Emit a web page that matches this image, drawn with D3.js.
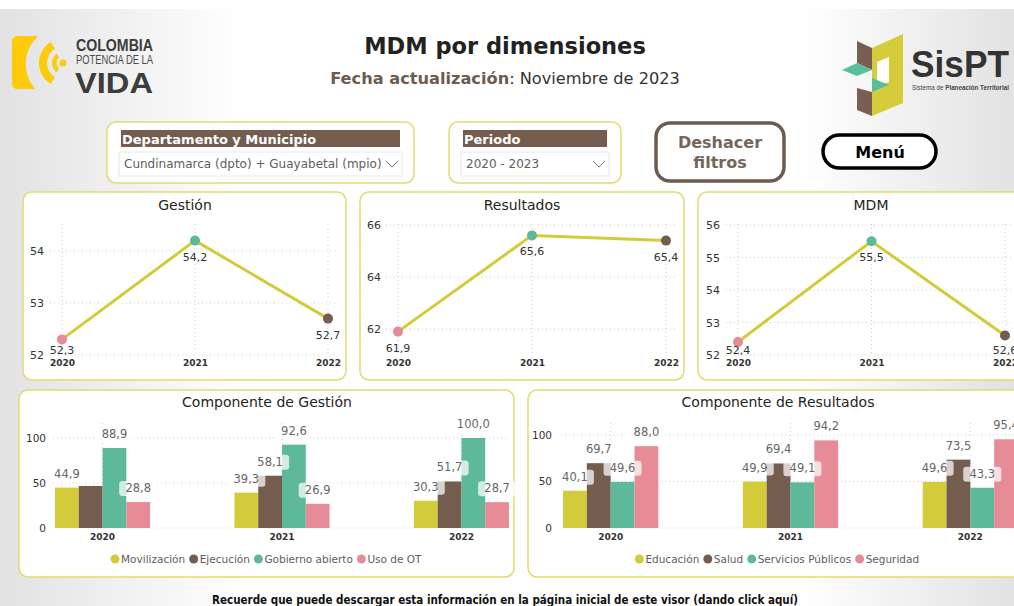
<!DOCTYPE html>
<html>
<head>
<meta charset="utf-8">
<title>MDM por dimensiones</title>
<script src="https://cdn.jsdelivr.net/npm/d3@7"></script>
<style>
  body { margin: 0; background: #fff; overflow: hidden; }
  svg { display: block; font-family: "DejaVu Sans", Verdana, sans-serif; }
</style>
</head>
<body>
<div id="container"></div>
<script>
var years = ["2020", "2021", "2022"];

var gestionValues = [52.3, 54.2, 52.7];
var gestionTicks = [52, 53, 54];
var resultadosValues = [61.9, 65.6, 65.4];
var resultadosTicks = [62, 64, 66];
var mdmValues = [52.4, 55.5, 52.6];
var mdmTicks = [52, 53, 54, 55, 56];

var compGestionSeries = ["Movilización", "Ejecución", "Gobierno abierto", "Uso de OT"];
var compGestionValues = [
  [44.9, 39.3, 30.3],
  [46.7, 58.1, 51.7],
  [88.9, 92.6, 100.0],
  [28.8, 26.9, 28.7]
];
var compGestionHidden = ["Ejecución|2020"]; // label not shown in the report

var compResultadosSeries = ["Educación", "Salud", "Servicios Públicos", "Seguridad"];
var compResultadosValues = [
  [40.1, 49.9, 49.6],
  [69.7, 69.4, 73.5],
  [49.6, 49.1, 43.3],
  [88.0, 94.2, 95.4]
];
var barTicks = [0, 50, 100];

// ---- colours ----
var olive = "#D3CB3A", brown = "#745C4F", teal = "#5DB99A", pink = "#E78C96";
var seriesColors = [olive, brown, teal, pink];
var pointColors = [pink, teal, brown];
var panelStroke = "#E3DA70";

var W = 1014, H = 606;
var svg = d3.select("#container").append("svg").attr("width", W).attr("height", H);

var fmt = function(v){ return d3.format(".1f")(v).replace(".", ","); };

// background: grey at the sides, white in the middle
var defs = svg.append("defs");
var grad = defs.append("linearGradient").attr("id", "bg").attr("x1", 0).attr("x2", 1).attr("y1", 0).attr("y2", 0);
grad.append("stop").attr("offset", "0%").attr("stop-color", "#e2e2e2");
grad.append("stop").attr("offset", "24%").attr("stop-color", "#ffffff");
grad.append("stop").attr("offset", "79%").attr("stop-color", "#ffffff");
grad.append("stop").attr("offset", "100%").attr("stop-color", "#e2e2e2");
svg.append("rect").attr("width", W).attr("height", H).attr("fill", "url(#bg)");
svg.append("rect").attr("width", W).attr("height", 9).attr("fill", "#fff");

// ---- Colombia logo ----
var logo = svg.append("g");
logo.append("path")
  .attr("d", "M18,36 L38,36 A38,38 0 0 0 35,89 L18,89 Q12,89 12,83 L12,42 Q12,36 18,36 Z")
  .attr("fill", "#FCCB0A");
var lc = [64, 63];
var arcGen = d3.arc();
logo.append("path").attr("transform", "translate(" + lc + ")")
  .attr("d", arcGen({innerRadius: 17, outerRadius: 25, startAngle: -Math.PI * 0.82, endAngle: -Math.PI * 0.18}))
  .attr("fill", "#FCCB0A");
logo.append("path").attr("transform", "translate(" + lc + ")")
  .attr("d", arcGen({innerRadius: 7.5, outerRadius: 12, startAngle: -Math.PI * 0.78, endAngle: -Math.PI * 0.22}))
  .attr("fill", "#FCCB0A");
logo.append("circle").attr("cx", 63).attr("cy", 63).attr("r", 3.5).attr("fill", "#FCCB0A");
logo.append("text").attr("x", 76).attr("y", 51).attr("font-family", "Liberation Sans, Arial, sans-serif")
  .attr("font-weight", "bold").attr("font-size", 16).attr("fill", "#3c3c3c")
  .attr("textLength", 77).attr("lengthAdjust", "spacingAndGlyphs").text("COLOMBIA");
logo.append("text").attr("x", 76).attr("y", 63.5).attr("font-family", "Liberation Sans, Arial, sans-serif")
  .attr("font-size", 12).attr("fill", "#4a4a4a")
  .attr("textLength", 77).attr("lengthAdjust", "spacingAndGlyphs").text("POTENCIA DE LA");
logo.append("text").attr("x", 75).attr("y", 93).attr("font-family", "Liberation Sans, Arial, sans-serif")
  .attr("font-weight", "bold").attr("font-size", 30).attr("fill", "#3c3c3c")
  .attr("textLength", 78).attr("lengthAdjust", "spacingAndGlyphs").text("VIDA");

// ---- SisPT logo ----
var sp = svg.append("g");
sp.append("polygon").attr("points", "872,48 903,34 903,103 872,116").attr("fill", "#D5CC3C");
sp.append("polygon").attr("points", "877,62 889,57 889,82 877,86").attr("fill", "#fff");
sp.append("polygon").attr("points", "857,41 872,48 872,70 857,63").attr("fill", "#7A5E52");
sp.append("polygon").attr("points", "842,70 857,63 872,70 857,76").attr("fill", "#5BBE9A");
sp.append("polygon").attr("points", "872,78 889,85 872,92").attr("fill", "#5BBE9A");
sp.append("polygon").attr("points", "857,88 872,92 872,116 857,110").attr("fill", "#7A5E52");
sp.append("text").attr("x", 911).attr("y", 77).attr("font-family", "Liberation Sans, Arial, sans-serif")
  .attr("font-weight", "bold").attr("font-size", 36).attr("fill", "#333")
  .attr("textLength", 98).attr("lengthAdjust", "spacingAndGlyphs").text("SisPT");
var sub = sp.append("text").attr("x", 912).attr("y", 90).attr("font-family", "Liberation Sans, Arial, sans-serif")
  .attr("font-size", 6.5).attr("fill", "#444")
  .attr("textLength", 97).attr("lengthAdjust", "spacingAndGlyphs");
sub.append("tspan").text("Sistema de ");
sub.append("tspan").attr("font-weight", "bold").text("Planeación Territorial");

// ---- title ----
svg.append("text").attr("x", 505).attr("y", 54).attr("text-anchor", "middle")
  .attr("font-size", 22.5).attr("font-weight", "bold").attr("fill", "#222").text("MDM por dimensiones");
var sub2 = svg.append("text").attr("x", 505).attr("y", 84).attr("text-anchor", "middle")
  .attr("font-size", 16.2).attr("fill", "#333");
sub2.append("tspan").attr("font-weight", "bold").attr("fill", "#6E5B50").text("Fecha actualización");
sub2.append("tspan").text(": Noviembre de 2023");

// ---- filters ----
function slicer(x, w, header, value) {
  var g = svg.append("g");
  g.append("rect").attr("x", x).attr("y", 122).attr("width", w).attr("height", 61).attr("rx", 9)
    .attr("fill", "#fff").attr("stroke", panelStroke).attr("stroke-width", 1.5);
  g.append("rect").attr("x", x + 14).attr("y", 130).attr("width", w - 28).attr("height", 17).attr("fill", brown);
  g.append("text").attr("x", x + 15).attr("y", 144).attr("font-size", 13).attr("font-weight", "bold")
    .attr("fill", "#fff").text(header);
  g.append("rect").attr("x", x + 12).attr("y", 152).attr("width", w - 24).attr("height", 24)
    .attr("fill", "#fff").attr("stroke", "#e8e8e8");
  g.append("text").attr("x", x + 17).attr("y", 168).attr("font-size", 12).attr("fill", "#605E5C").text(value);
  var cx = x + w - 22;
  g.append("path").attr("d", "M" + (cx - 6) + ",161 L" + cx + ",167 L" + (cx + 6) + ",161")
    .attr("fill", "none").attr("stroke", "#777").attr("stroke-width", 1);
}
slicer(107, 307, "Departamento y Municipio", "Cundinamarca (dpto) + Guayabetal (mpio)");
slicer(449, 172, "Periodo", "2020 - 2023");

svg.append("rect").attr("x", 656).attr("y", 123).attr("width", 128).attr("height", 58).attr("rx", 14)
  .attr("fill", "#fff").attr("stroke", "#6E5B50").attr("stroke-width", 3.5);
svg.append("text").attr("x", 720).attr("y", 148).attr("text-anchor", "middle").attr("font-size", 16)
  .attr("font-weight", "bold").attr("fill", "#776559").text("Deshacer");
svg.append("text").attr("x", 720).attr("y", 168).attr("text-anchor", "middle").attr("font-size", 16)
  .attr("font-weight", "bold").attr("fill", "#776559").text("filtros");

svg.append("rect").attr("x", 823).attr("y", 135).attr("width", 113).attr("height", 33).attr("rx", 16.5)
  .attr("fill", "#fff").attr("stroke", "#000").attr("stroke-width", 3.5);
svg.append("text").attr("x", 880).attr("y", 158).attr("text-anchor", "middle").attr("font-size", 16)
  .attr("font-weight", "bold").attr("fill", "#000").text("Menú");

// ---- helpers ----
function panel(b, title, titleX, titleY) {
  var g = svg.append("g");
  g.append("rect").attr("x", b[0]).attr("y", b[1]).attr("width", b[2]).attr("height", b[3]).attr("rx", 9)
    .attr("fill", "#fff").attr("stroke", panelStroke).attr("stroke-width", 1.5);
  g.append("text").attr("x", titleX).attr("y", titleY).attr("text-anchor", "middle")
    .attr("font-size", 14).attr("fill", "#252423").text(title);
  return g;
}

function styleAxis(ax, size, color, weight) {
  ax.select(".domain").remove();
  ax.attr("font-family", null).attr("font-size", null);
  ax.selectAll("text").attr("font-size", size).attr("fill", color).attr("font-weight", weight || "normal");
}

function drawLineChart(cfg) {
  var g = panel(cfg.box, cfg.title, cfg.titleX, 210);
  var x = d3.scalePoint().domain(years).range(cfg.xRange);
  var y = d3.scaleLinear().domain(cfg.domain).range([355, 225]);

  g.append("g").selectAll("line").data(cfg.ticks).join("line")
    .attr("x1", cfg.xRange[0] - 12).attr("x2", cfg.xRange[1] + 10)
    .attr("y1", function(d){ return y(d); }).attr("y2", function(d){ return y(d); })
    .attr("stroke", "#cfcfcf").attr("stroke-dasharray", "1,3");
  g.append("g").selectAll("line").data(years).join("line")
    .attr("x1", function(d){ return x(d); }).attr("x2", function(d){ return x(d); })
    .attr("y1", 224).attr("y2", 355)
    .attr("stroke", "#cfcfcf").attr("stroke-dasharray", "1,3");

  var ay = g.append("g").attr("transform", "translate(" + cfg.axisX + ",0)")
    .call(d3.axisLeft(y).tickValues(cfg.ticks).tickSize(0).tickPadding(0).tickFormat(d3.format("d")));
  styleAxis(ay, 11, "#333");
  var ax = g.append("g").attr("transform", "translate(0,360)")
    .call(d3.axisBottom(x).tickSize(0).tickPadding(0));
  styleAxis(ax, 9, "#333", "bold");

  var pts = years.map(function(yr, i){ return {year: yr, v: cfg.values[i], i: i}; });
  g.append("path").datum(pts)
    .attr("d", d3.line().x(function(d){ return x(d.year); }).y(function(d){ return y(d.v); }))
    .attr("fill", "none").attr("stroke", olive).attr("stroke-width", 3);
  g.selectAll("circle.pt").data(pts).join("circle").attr("class", "pt")
    .attr("cx", function(d){ return x(d.year); }).attr("cy", function(d){ return y(d.v); })
    .attr("r", 5).attr("fill", function(d){ return pointColors[d.i]; });
  g.selectAll("text.lbl").data(pts).join("text").attr("class", "lbl")
    .attr("x", function(d){ return x(d.year); })
    .attr("y", function(d){ return Math.min(y(d.v) + 16, 350) + 4; })
    .attr("text-anchor", "middle").attr("font-size", 11).attr("fill", "#333")
    .text(function(d){ return fmt(d.v); });
}

drawLineChart({box: [23, 192, 323, 188], title: "Gestión", titleX: 185, values: gestionValues,
  domain: [52, 54.5], ticks: gestionTicks, xRange: [62, 328], axisX: 44});
drawLineChart({box: [360, 192, 324, 188], title: "Resultados", titleX: 522, values: resultadosValues,
  domain: [61, 66], ticks: resultadosTicks, xRange: [398, 666], axisX: 381});
drawLineChart({box: [698, 192, 340, 188], title: "MDM", titleX: 871, values: mdmValues,
  domain: [52, 56], ticks: mdmTicks, xRange: [738, 1005], axisX: 720});

function drawBarChart(cfg) {
  var g = panel(cfg.box, cfg.title, cfg.titleX, 407);
  var x0 = d3.scaleBand().domain(years).range(cfg.xRange).paddingInner(0.47).paddingOuter(0);
  var x1 = d3.scaleBand().domain(cfg.series).range([0, x0.bandwidth()]);
  var y = d3.scaleLinear().domain([0, 100]).range([528, cfg.top100]);

  g.append("g").selectAll("line").data(barTicks).join("line")
    .attr("x1", cfg.xRange[0] - 2).attr("x2", cfg.gridEnd)
    .attr("y1", function(d){ return y(d); }).attr("y2", function(d){ return y(d); })
    .attr("stroke", "#cfcfcf").attr("stroke-dasharray", "1,3");
  g.append("g").selectAll("line").data(years).join("line")
    .attr("x1", function(d){ return x0(d) + x0.bandwidth() / 2; })
    .attr("x2", function(d){ return x0(d) + x0.bandwidth() / 2; })
    .attr("y1", 423).attr("y2", 528)
    .attr("stroke", "#cfcfcf").attr("stroke-dasharray", "1,3");

  var ay = g.append("g").attr("transform", "translate(" + cfg.axisX + ",0)")
    .call(d3.axisLeft(y).tickValues(barTicks).tickSize(0).tickPadding(0));
  styleAxis(ay, 10.5, "#333");
  var ax = g.append("g").attr("transform", "translate(0,534)")
    .call(d3.axisBottom(x0).tickSize(0).tickPadding(0));
  styleAxis(ax, 9, "#333", "bold");

  var cells = [];
  cfg.series.forEach(function(s, si){
    years.forEach(function(yr, yi){
      cells.push({s: s, si: si, year: yr, v: cfg.values[si][yi],
        hidden: (cfg.hidden || []).indexOf(s + "|" + yr) >= 0});
    });
  });
  g.append("g").selectAll("rect").data(cells).join("rect")
    .attr("x", function(d){ return x0(d.year) + x1(d.s); })
    .attr("y", function(d){ return y(d.v); })
    .attr("width", x1.bandwidth())
    .attr("height", function(d){ return 528 - y(d.v); })
    .attr("fill", function(d){ return seriesColors[d.si]; });

  // data labels with translucent background, as Power BI draws them
  var shown = cells.filter(function(d){ return !d.hidden; });
  var lg = g.append("g");
  var lbl = lg.selectAll("g").data(shown).join("g")
    .attr("transform", function(d){
      return "translate(" + (x0(d.year) + x1(d.s) + x1.bandwidth() / 2) + "," + y(d.v) + ")";
    });
  lbl.append("rect").attr("x", -19).attr("y", -21).attr("width", 38).attr("height", 15).attr("rx", 3)
    .attr("fill", "#fff").attr("fill-opacity", 0.72);
  lbl.append("text").attr("y", -10).attr("text-anchor", "middle").attr("font-size", 11.5)
    .attr("fill", "#666").text(function(d){ return fmt(d.v); });

  // legend
  var leg = g.append("g").attr("transform", "translate(0,563)");
  var cursor = 0;
  var items = leg.selectAll("g").data(cfg.series).join("g");
  items.append("circle").attr("r", 4.5).attr("cy", -4)
    .attr("fill", function(d, i){ return seriesColors[i]; });
  items.append("text").attr("x", 6).attr("font-size", 10.5).attr("fill", "#605E5C").text(function(d){ return d; });
  items.each(function(){
    var t = d3.select(this).select("text").node().getComputedTextLength();
    d3.select(this).attr("transform", "translate(" + (cursor + 4.5) + ",0)");
    cursor += 4.5 + 6 + t + 4;
  });
  var total = cursor - 4;
  leg.attr("transform", "translate(" + (cfg.legendCenter - total / 2) + ",563)");
}

drawBarChart({box: [19, 390, 495, 187], title: "Componente de Gestión", titleX: 267,
  series: compGestionSeries, values: compGestionValues, hidden: compGestionHidden,
  xRange: [55, 509], top100: 438, gridEnd: 508, axisX: 46, legendCenter: 266});
drawBarChart({box: [528, 390, 520, 187], title: "Componente de Resultados", titleX: 778,
  series: compResultadosSeries, values: compResultadosValues,
  xRange: [563, 1018], top100: 435, gridEnd: 1020, axisX: 552, legendCenter: 777});

// footer note
svg.append("text").attr("x", 505).attr("y", 604).attr("text-anchor", "middle")
  .attr("font-family", "Liberation Sans Narrow, DejaVu Sans Condensed, Liberation Sans, sans-serif")
  .attr("font-size", 11.5).attr("font-weight", "bold").attr("fill", "#111")
  .attr("textLength", 586).attr("lengthAdjust", "spacingAndGlyphs")
  .text("Recuerde que puede descargar esta información en la página inicial de este visor (dando click aquí)");
</script>
</body>
</html>
